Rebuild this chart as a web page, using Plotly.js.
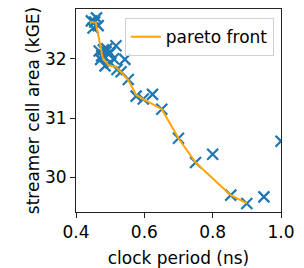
<!DOCTYPE html>
<html>
<head>
<meta charset="utf-8">
<script src="https://cdn.plot.ly/plotly-3.0.1.min.js"></script>
<style>html,body{margin:0;padding:0;background:#fff;}#chart{width:304px;height:268px;}</style>
</head>
<body>
<div id="chart"></div>
<script>
// all designs (clock period ns, area kGE)
const designPeriod = [0.445, 0.460, 0.455, 0.450, 0.465,
  0.468, 0.475, 0.480, 0.488, 0.495, 0.490, 0.500, 0.517, 0.472, 0.485, 0.502, 0.510,
  0.543, 0.520, 0.532, 0.553, 0.576, 0.597, 0.624, 0.651, 0.700, 0.750, 0.800, 0.853, 0.900, 0.950, 1.000];
const designArea = [32.64, 32.69, 32.62, 32.52, 32.56,
  32.13, 32.05, 32.15, 32.12, 32.08, 32.17, 32.10, 32.22, 31.99, 31.88, 31.93, 32.00,
  31.99, 31.82, 31.78, 31.65, 31.37, 31.32, 31.40, 31.15, 30.66, 30.25, 30.39, 29.70, 29.56, 29.67, 30.61];
// pareto front
const paretoPeriod = [0.441, 0.458, 0.478, 0.495, 0.514, 0.531, 0.553, 0.576, 0.597, 0.651, 0.700, 0.750, 0.853, 0.900];
const paretoArea = [32.62, 32.61, 32.02, 31.89, 31.87, 31.78, 31.64, 31.39, 31.32, 31.15, 30.66, 30.25, 29.70, 29.56];
const xTicks = [0.4, 0.6, 0.8, 1.0];
const yTicks = [30, 31, 32];

const font = {family: 'DejaVu Sans', size: 17, color: '#000'};
const data = [
  {x: designPeriod, y: designArea, type: 'scatter', mode: 'markers', showlegend: false, cliponaxis: true,
   marker: {symbol: 'x-thin-open', size: 11, color: '#1f77b4', line: {color: '#1f77b4', width: 2.2}}},
  {x: paretoPeriod, y: paretoArea, type: 'scatter', mode: 'lines', name: 'pareto front',
   line: {color: '#ffa500', width: 2}}
];
const axis = {showgrid: false, zeroline: false, showline: true, mirror: true, linecolor: '#222', linewidth: 1,
  ticks: 'outside', ticklen: 5, tickwidth: 1, tickcolor: '#222', tickfont: font};
const layout = {
  width: 304, height: 268, margin: {l: 76, r: 23, t: 9, b: 56},
  paper_bgcolor: '#fff', plot_bgcolor: '#fff', font: font,
  xaxis: Object.assign({}, axis, {range: [0.4, 1.0], tickvals: xTicks, ticktext: xTicks.map(v => v.toFixed(1)),
    title: {text: 'clock period (ns)', font: font, standoff: 11}}),
  yaxis: Object.assign({}, axis, {range: [29.415, 32.84], tickvals: yTicks, ticktext: yTicks.map(String),
    title: {text: 'streamer cell area (kGE)', font: font, standoff: 1}}),
  legend: {x: 0.965, y: 0.955, xanchor: 'right', yanchor: 'top', bgcolor: 'rgba(255,255,255,0.8)',
    bordercolor: '#d0d0d0', borderwidth: 1, font: font, itemwidth: 30}
};
Plotly.newPlot('chart', data, layout, {staticPlot: true, displayModeBar: false});
</script>
</body>
</html>
